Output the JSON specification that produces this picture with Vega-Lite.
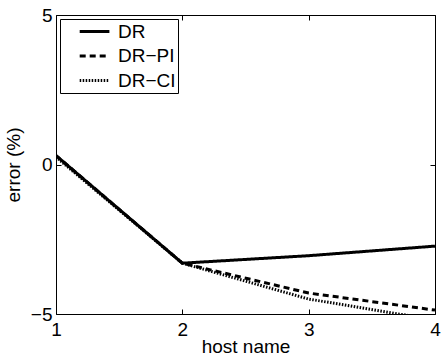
{
  "$schema": "https://vega.github.io/schema/vega-lite/v6.json",
  "width": 379,
  "height": 299,
  "autosize": {"type": "none"},
  "padding": {"left": 56, "top": 15, "right": 10, "bottom": 41},
  "background": "white",
  "config": {
    "font": "Liberation Sans",
    "view": {"stroke": "black", "strokeWidth": 1},
    "axis": {"grid": false, "domain": false, "ticks": true, "tickColor": "black", "tickWidth": 1, "tickSize": -5, "labelColor": "black", "titleColor": "black", "labelFont": "Liberation Sans", "titleFont": "Liberation Sans", "labelFontSize": 19, "titleFontSize": 19, "titleFontWeight": "normal"}
  },
  "data": {
    "values": [
      {"host": 1, "error": 0.3, "method": "DR"},
      {"host": 2, "error": -3.3, "method": "DR"},
      {"host": 3, "error": -3.05, "method": "DR"},
      {"host": 4, "error": -2.73, "method": "DR"},
      {"host": 1, "error": 0.3, "method": "DR−PI"},
      {"host": 2, "error": -3.3, "method": "DR−PI"},
      {"host": 3, "error": -4.3, "method": "DR−PI"},
      {"host": 4, "error": -4.87, "method": "DR−PI"},
      {"host": 1, "error": 0.25, "method": "DR−CI"},
      {"host": 2, "error": -3.3, "method": "DR−CI"},
      {"host": 3, "error": -4.5, "method": "DR−CI"},
      {"host": 4, "error": -5.2, "method": "DR−CI"}
    ]
  },
  "resolve": {"axis": {"x": "independent", "y": "independent"}},
  "layer": [
    {
      "mark": {"type": "line", "clip": true, "strokeWidth": 3},
      "encoding": {
        "x": {"field": "host", "type": "quantitative", "scale": {"domain": [1, 4], "nice": false, "zero": false},
              "axis": {"values": [1, 2, 3, 4], "title": "host name", "labelPadding": 11, "titleY": 38, "titleBaseline": "alphabetic", "labelFlush": false}},
        "y": {"field": "error", "type": "quantitative", "scale": {"domain": [-5, 5], "nice": false},
              "axis": {"values": [-5, 0, 5], "title": "error (%)", "labelPadding": 9, "titleX": -33, "labelExpr": "replace(datum.label, '-', '−')"}},
        "color": {"field": "method", "type": "nominal", "scale": {"domain": ["DR", "DR−PI", "DR−CI"], "range": ["black", "black", "black"]},
                  "legend": {"title": null, "orient": "top-left", "offset": 4, "padding": 2, "strokeColor": "black", "fillColor": "white",
                             "symbolType": "M0.8,0H4.1", "symbolSize": 324, "symbolStrokeWidth": 3, "labelFontSize": 19, "labelColor": "black", "labelFont": "Liberation Sans", "rowPadding": 3.5, "labelOffset": 35, "cornerRadius": 0}},
        "strokeDash": {"field": "method", "type": "nominal", "scale": {"domain": ["DR", "DR−PI", "DR−CI"], "range": [[1, 0], [6, 4], [1.5, 1.5]]}, "legend": {"title": null}}
      }
    },
    {
      "mark": {"type": "point", "opacity": 0},
      "encoding": {
        "x": {"field": "host", "type": "quantitative", "axis": {"orient": "top", "values": [1, 2, 3, 4], "labels": false, "title": null}},
        "y": {"field": "error", "type": "quantitative", "axis": {"orient": "right", "values": [-5, 0, 5], "labels": false, "title": null}}
      }
    }
  ]
}
